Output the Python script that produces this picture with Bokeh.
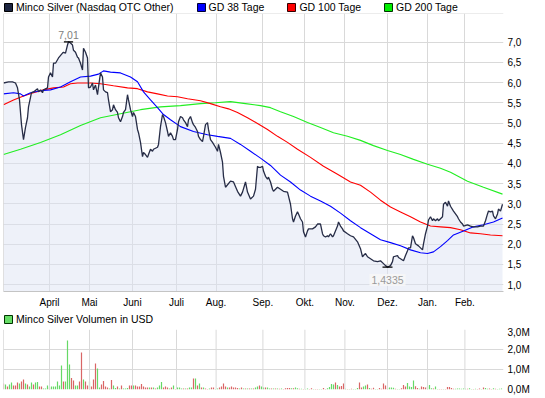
from bokeh.plotting import figure
from bokeh.models import (Legend, LegendItem, FixedTicker, CustomJSTickFormatter,
                          Label, Span, Range1d)
from bokeh.layouts import column
from bokeh.embed import file_html
from bokeh.resources import INLINE

# ---------------- data ----------------
month_labels = ["April", "Mai", "Juni", "Juli", "Aug.", "Sep.", "Okt.", "Nov.", "Dez.", "Jan.", "Feb."]
month_pos = [23, 43, 64.5, 86.5, 106.3, 129.7, 150.7, 170.7, 192, 212, 230.7]   # trading-day index

price_day = [0, 2.5, 4.5, 6, 7, 8, 9, 10, 11, 12, 12.5, 14, 15, 17, 17.5, 18.5, 19.5, 20, 22, 22.5,
             23.5, 24.5, 25, 26, 27.5, 29.5, 30, 31, 32, 32.5, 33.5, 34.5, 35, 36, 37, 37.5, 38.5, 39.5, 40, 41,
             42, 42.5, 43.5, 44.5, 45, 46, 47, 47.5, 48.5, 49.5, 50, 51, 52, 52.5, 53.5, 54.5, 55, 56, 57, 57.5,
             58.5, 59.5, 60, 61, 62, 62.5, 63.5, 64.5, 65, 66, 67, 67.5, 68.5, 69.5, 70, 71, 72, 72.5, 73.5, 74.5,
             75, 77, 77.5, 78.5, 79.5, 80, 81, 82, 82.5, 83.5, 84.5, 85, 86, 87, 87.5, 88.5, 89.5, 90, 91, 92,
             92.5, 93.5, 94.5, 95, 96, 97, 97.5, 98.5, 99.5, 100, 101, 102, 102.5, 103.5, 104.5, 106, 107, 107.5,
             108.5, 109.5, 110, 111, 113.5, 115, 117, 118.5, 119.5, 121, 122, 123.5, 125, 126, 127, 127.5, 128.5,
             129.5, 130, 131, 132, 132.5, 133.5, 134.5, 135, 137, 138.5, 140, 142, 142.5, 143.5, 144.5, 145, 146,
             147, 147.5, 148.5, 149.5, 150, 151, 152, 152.5, 154.5, 156, 157, 158.5, 159.5, 160, 161, 162, 162.5,
             163.5, 164.5, 165, 167, 167.5, 168.5, 169.5, 170, 172, 173.5, 175, 177, 178.5, 179.5, 180, 181, 182,
             183.5, 185, 187, 188.5, 190, 191, 192, 193.5, 194.5, 195, 197, 197.5, 198.5, 200, 201, 202, 202.5,
             203.5, 204.5, 205, 206, 207.5, 208.5, 209.5, 210, 211, 212, 212.5, 213.5, 214.5, 215, 216, 217, 217.5,
             219.5, 220, 221, 222, 222.5, 223.5, 225, 227, 227.5, 228.5, 229.5, 230, 232, 233.5, 235, 237, 238.5,
             240, 241, 242, 242.5, 243.5, 244.5, 245, 246, 247, 247.5, 248.5, 249.5]
price = [5.99, 6.02, 6.02, 5.99, 5.87, 5.57, 4.96, 4.59, 4.89, 5.13, 5.40, 5.75, 5.77, 5.85, 5.77, 5.82, 5.75, 5.82, 5.87, 6.14,
         6.24, 6.14, 6.48, 6.48, 6.61, 6.73, 6.75, 6.73, 6.93, 7.01, 6.98, 6.93, 6.80, 6.75, 6.63, 6.61, 6.48, 6.31, 6.85, 6.75,
         6.61, 5.87, 5.89, 5.99, 5.82, 5.94, 5.70, 5.89, 6.24, 6.14, 5.82, 5.77, 5.75, 5.57, 5.28, 5.33, 5.45, 5.33, 5.26, 5.13,
         5.03, 5.16, 5.26, 5.33, 5.70, 5.57, 5.33, 5.16, 5.26, 5.16, 4.84, 4.76, 4.52, 4.17, 4.27, 4.22, 4.15, 4.22, 4.35, 4.30,
         4.35, 4.40, 4.47, 4.91, 5.21, 5.16, 5.01, 4.79, 4.67, 4.76, 4.67, 4.59, 4.59, 4.84, 5.03, 5.16, 5.13, 5.08, 5.01, 4.91,
         5.08, 5.16, 5.01, 4.96, 4.89, 4.79, 4.67, 4.59, 4.54, 4.67, 4.96, 5.01, 4.84, 4.59, 4.52, 4.40, 4.30, 4.47,
         4.27, 4.03, 3.68, 3.41, 3.56, 3.54, 3.31, 3.19, 3.29, 3.54, 3.29, 3.12, 3.19, 3.36, 3.93, 3.90, 3.90,
         3.93, 3.81, 3.68, 3.61, 3.66, 3.54, 3.36, 3.31, 3.41, 3.36, 3.31, 3.29, 3.19, 2.99, 2.63, 2.55, 2.70,
         2.80, 2.75, 2.63, 2.55, 2.31, 2.18, 2.33, 2.38, 2.38, 2.43, 2.50, 2.50, 2.26, 2.21, 2.18, 2.21, 2.18,
         2.26, 2.18, 2.21, 2.45, 2.55, 2.45, 2.38, 2.33, 2.26, 2.21, 2.18, 2.06, 1.89, 1.69, 1.72, 1.77, 1.69,
         1.64, 1.59, 1.57, 1.59, 1.52, 1.47, 1.4335, 1.47, 1.57, 1.69, 1.72, 1.67, 1.64, 1.59, 1.72, 1.84, 1.91,
         1.91, 2.21, 2.16, 2.01, 1.96, 1.91, 1.86, 2.01, 2.26, 2.45, 2.60, 2.68, 2.58, 2.63, 2.58, 2.63, 2.58,
         2.68, 2.99, 3.04, 2.94, 3.07, 2.94, 2.82, 2.68, 2.63, 2.55, 2.50, 2.45, 2.48, 2.45, 2.43, 2.43, 2.45,
         2.45, 2.58, 2.75, 2.82, 2.80, 2.82, 2.70, 2.63, 2.75, 2.87, 2.82, 2.99]

gd38_day = [0, 5, 8.5, 10, 13.5, 18.5, 23.5, 28.5, 33.5, 38.5, 43.5, 47.5, 50, 53.5, 58.5, 63.5, 67, 70, 73.5, 77,
            80, 83.5, 88.5, 95, 102, 107, 113.5, 118.5, 123.5, 128.5, 133.5, 138.5, 143.5, 148.5, 153.5, 158.5,
            163.5, 168.5, 173.5, 178.5, 183.5, 188.5, 193.5, 198.5, 203.5, 208.5, 212, 215, 218.5, 222, 225, 230,
            235, 240, 245, 249.5]
gd38 = [5.72, 5.75, 5.72, 5.67, 5.75, 5.80, 5.82, 5.89, 6.02, 6.14, 6.16, 6.21, 6.29, 6.26, 6.24, 6.14, 6.02, 5.77,
        5.57, 5.38, 5.21, 5.08, 4.91, 4.79, 4.71, 4.67, 4.62, 4.47, 4.30, 4.13, 3.95, 3.71, 3.54, 3.34, 3.19, 3.07,
        2.94, 2.77, 2.58, 2.41, 2.26, 2.11, 2.04, 1.96, 1.86, 1.79, 1.77, 1.81, 1.94, 2.09, 2.23, 2.33, 2.43, 2.48,
        2.55, 2.65]

gd100_day = [0, 5, 10, 15, 20, 25, 30, 33.5, 37, 43.5, 48.5, 55, 62, 67, 72, 77, 82, 87, 92, 98.5, 103.5, 108.5,
             112.5, 117, 122, 127, 132, 137, 142, 147, 153.5, 160, 167, 173.5, 178.5, 183.5, 188.5, 193.5, 198.5,
             203.5, 208.5, 213.5, 218.5, 223.5, 228.5, 233.5, 238.5, 243.5, 249.5]
gd100 = [5.45, 5.57, 5.67, 5.75, 5.82, 5.87, 5.89, 5.97, 5.99, 5.99, 5.97, 5.92, 5.87, 5.85, 5.77, 5.72, 5.67, 5.65,
         5.60, 5.55, 5.48, 5.40, 5.35, 5.26, 5.13, 4.99, 4.84, 4.67, 4.52, 4.35, 4.15, 3.93, 3.73, 3.54, 3.46, 3.29,
         3.09, 2.92, 2.80, 2.68, 2.55, 2.45, 2.43, 2.41, 2.36, 2.28, 2.26, 2.23, 2.21]

gd200_day = [0, 8.5, 18.5, 28.5, 38.5, 48.5, 58.5, 68.5, 78.5, 88.5, 98.5, 106, 113.5, 121, 128.5, 133.5, 138.5,
             145, 152, 158.5, 165, 172, 178.5, 185, 192, 198.5, 205, 212, 218.5, 223.5, 232, 240, 249.5]
gd200 = [4.22, 4.35, 4.52, 4.71, 4.94, 5.13, 5.23, 5.33, 5.40, 5.43, 5.48, 5.50, 5.53, 5.48, 5.43, 5.38, 5.28,
         5.16, 5.01, 4.89, 4.76, 4.67, 4.57, 4.44, 4.32, 4.22, 4.10, 3.98, 3.88, 3.78, 3.56, 3.41, 3.24]

# daily volume in thousand USD, one bar per trading day
vol_k = [300, 250, 150, 250, 350, 200, 200, 350, 300, 400,
         500, 300, 250, 150, 350, 250, 350, 380, 150, 150,
         50, 50, 200, 100, 150, 150, 150, 400, 200, 1200,
         400, 400, 2450, 1250, 580, 450, 200, 200, 400, 1850,
         500, 400, 200, 400, 150, 500, 1300, 1050, 100, 250,
         420, 150, 100, 50, 480, 200, 80, 150, 50, 200,
         50, 50, 80, 200, 200, 200, 200, 150, 150, 280,
         150, 100, 100, 100, 100, 100, 50, 100, 200, 380,
         100, 150, 100, 50, 100, 200, 20, 100, 100, 50,
         50, 50, 50, 100, 100, 550, 550, 200, 300, 100,
         100, 50, 20, 50, 100, 100, 20, 50, 100, 150,
         300, 150, 100, 100, 150, 100, 100, 80, 50, 100,
         50, 50, 50, 50, 50, 50, 100, 150, 200, 150,
         100, 100, 100, 50, 50, 50, 50, 50, 40, 50,
         30, 60, 80, 80, 60, 60, 100, 60, 40, 40,
         20, 30, 50, 30, 60, 20, 20, 30, 20, 30,
         80, 20, 60, 130, 280, 250, 350, 230, 150, 180,
         300, 40, 30, 20, 40, 20, 20, 80, 350, 100,
         150, 200, 250, 80, 40, 90, 30, 30, 80, 40,
         300, 200, 80, 100, 100, 90, 40, 30, 30, 60,
         220, 150, 320, 150, 120, 450, 160, 80, 40, 150,
         120, 100, 150, 220, 60, 50, 150, 20, 20, 30,
         20, 20, 120, 130, 70, 40, 40, 50, 50, 40,
         50, 40, 40, 60, 30, 30, 40, 30, 50, 30,
         100, 80, 40, 50, 30, 60, 40, 30, 40, 50]
vol_dir = ("rgrggrrrgr" "rgrggrggrr" "gggrgggggg" "rgggrrggrr" "grrgrrrggr"
           "rrrgrggrgr" "gggrrgrrrr" "rrrgrgrggg" "rrrgrgrggg" "rgrggrgrgr"
           "grrgrrggrr" "rrgrrrrrgr" "grgrgrggrg" "grggrgrgrg" "rrrrgrggrg"
           "rggrrgrrgg" "rrggggrgrr" "rgrgrgggrr" "ggrgrrggrr" "rrggggrggr"
           "rrggggrrgr" "rrgggrggrr" "grrrrrgggg" "ggrggrgrrg" "rggrrgrggg")

# ---------------- styling ----------------
FONT = "Liberation Sans"
GRID = "#d9d9d9"
BORDER = "#c4c4c4"
PRICE_C = "#262c46"
BLUE, RED, GREEN = "#0000ff", "#ff0000", "#22ee22"
VOL_UP, VOL_DOWN = "#66d966", "#d96666"
W = 545
LEFT, RIGHT = 3, 42

y_lo, y_hi = 0.83, 7.71
x_lo, x_hi = 0, 250


def legend_strip(height, entries, loc):
    f = figure(width=W, height=height, x_range=Range1d(0, 1), y_range=Range1d(0, 1),
               x_axis_location=None, y_axis_location=None, output_backend="svg", toolbar_location=None,
               min_border_left=LEFT, min_border_right=0, min_border_top=0, min_border_bottom=0,
               outline_line_color=None, background_fill_color="white", border_fill_color="white")
    f.grid.visible = False
    items = []
    for label, fill, line in entries:
        # swatch-only renderer kept outside the visible range
        r = f.quad(left=[-3], right=[-2], top=[-2], bottom=[-3], fill_color=fill, line_color=line)
        items.append(LegendItem(label=label, renderers=[r]))
    lg = Legend(items=items, orientation="horizontal", location=loc, glyph_width=10, glyph_height=10,
                label_standoff=3, spacing=22, padding=0, margin=0, label_height=10,
                label_text_font=FONT, label_text_font_size="10.5px", label_text_color="black",
                label_text_baseline="middle",
                border_line_color=None, background_fill_alpha=0)
    f.add_layout(lg)
    return f


top_leg = legend_strip(13, [("Minco Silver (Nasdaq OTC Other)", "#1c2540", "black"),
                            ("GD 38 Tage", BLUE, "#000033"),
                            ("GD 100 Tage", RED, "#330000"),
                            ("GD 200 Tage", "#00ee00", "#003300")], (0, 0))

p = figure(width=W, height=297, x_range=Range1d(x_lo, x_hi), y_range=Range1d(y_lo, y_hi),
           y_axis_location="right", output_backend="svg", toolbar_location=None,
           min_border_left=LEFT, min_border_top=0, min_border_bottom=17, min_border_right=RIGHT,
           background_fill_color="white", border_fill_color="white", outline_line_color=None)

p.xaxis.ticker = FixedTicker(ticks=month_pos)
p.xaxis.formatter = CustomJSTickFormatter(args=dict(pos=month_pos, lab=month_labels), code="""
    for (let i = 0; i < pos.length; i++) { if (Math.abs(pos[i] - tick) < 1e-6) return lab[i]; }
    return '';""")
p.yaxis.ticker = FixedTicker(ticks=[1.0 + 0.5 * i for i in range(13)])
p.yaxis.formatter = CustomJSTickFormatter(code="return tick.toFixed(1).replace('.', ',');")
for ax in (p.xaxis[0], p.yaxis[0]):
    ax.major_tick_line_color = None
    ax.minor_tick_line_color = None
    ax.major_tick_out = 0
    ax.major_tick_in = 0
    ax.major_label_text_font = FONT
    ax.major_label_text_font_size = "10px"
    ax.major_label_text_color = "#000000"
p.yaxis.axis_line_color = None
p.yaxis.major_label_standoff = 4
p.xaxis.axis_line_color = BORDER
p.xaxis.major_label_standoff = 5
p.grid.grid_line_color = GRID

p.add_layout(Span(location=x_lo, dimension="height", line_color=BORDER, line_width=1))
p.add_layout(Span(location=y_hi, dimension="width", line_color=GRID, line_width=1))

p.varea(x=price_day, y1=y_lo, y2=price, fill_color="#dde3f3", fill_alpha=0.5)
p.line(gd200_day, gd200, line_color=GREEN, line_width=1.1)
p.line(gd100_day, gd100, line_color=RED, line_width=1.1)
p.line(gd38_day, gd38, line_color=BLUE, line_width=1.1)
p.line(price_day, price, line_color=PRICE_C, line_width=1.3)

# high / low annotations
i_hi = price.index(max(price))
i_lo = price.index(min(price))
p.segment(x0=[price_day[i_hi] - 2.3, price_day[i_lo] - 2.5], y0=[price[i_hi], price[i_lo]],
          x1=[price_day[i_hi] + 2.3, price_day[i_lo] + 2.5], y1=[price[i_hi], price[i_lo]],
          line_color="black", line_width=1.2)
p.add_layout(Label(x=price_day[i_hi], y=price[i_hi], text=f"{price[i_hi]:.2f}".replace(".", ","),
                   text_align="center", text_baseline="bottom", y_offset=3,
                   text_font=FONT, text_font_size="10.5px", text_color="#808080"))
p.add_layout(Label(x=price_day[i_lo], y=price[i_lo], text=f"{price[i_lo]:.4f}".replace(".", ","),
                   text_align="center", text_baseline="top", y_offset=-7,
                   text_font=FONT, text_font_size="10.5px", text_color="#9a9a9a",
                   background_fill_color="#f7f7f7", background_fill_alpha=0.85, padding=2))

vol_leg = legend_strip(16, [("Minco Silver Volumen in USD", "#66dd66", "#003300")], (0, 1))

# ---------------- volume panel ----------------
vol_day = list(range(len(vol_k)))
q = figure(width=W, height=69, x_range=p.x_range, y_range=Range1d(0, 3000),
           y_axis_location="right", x_axis_location=None, output_backend="svg", toolbar_location=None,
           min_border_left=LEFT, min_border_top=3, min_border_bottom=6, min_border_right=RIGHT,
           background_fill_color="white", border_fill_color="white", outline_line_color=None)
q.yaxis.ticker = FixedTicker(ticks=[0, 1000, 2000, 3000])
q.yaxis.formatter = CustomJSTickFormatter(code="return (tick / 1000).toFixed(1).replace('.', ',') + 'M';")
q.yaxis.major_tick_line_color = None
q.yaxis.minor_tick_line_color = None
q.yaxis.major_tick_out = 0
q.yaxis.major_tick_in = 0
q.yaxis.axis_line_color = None
q.yaxis.major_label_standoff = 4
q.yaxis.major_label_text_font = FONT
q.yaxis.major_label_text_font_size = "10px"
q.yaxis.major_label_text_color = "#000000"
q.ygrid.grid_line_color = GRID
q.xgrid.grid_line_color = None
for mp in month_pos:
    q.add_layout(Span(location=mp, dimension="height", line_color=GRID, line_width=1))
q.add_layout(Span(location=x_lo, dimension="height", line_color=BORDER, line_width=1))

colors = [VOL_UP if c == "g" else VOL_DOWN for c in vol_dir]
q.vbar(x=vol_day, top=vol_k, width=0.6, bottom=0, fill_color=colors, line_color=None)

layout = column(top_leg, p, vol_leg, q, spacing=0)
open("out.html", "w").write(file_html(layout, INLINE))
